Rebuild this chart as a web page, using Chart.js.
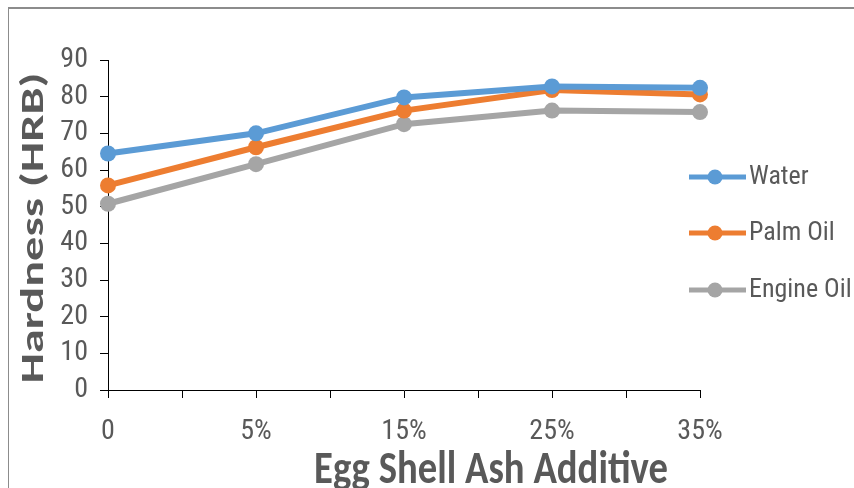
<!DOCTYPE html>
<html>
<head>
<meta charset="utf-8">
<script src="https://cdn.jsdelivr.net/npm/chart.js@4"></script>
<style>
  html, body { margin: 0; padding: 0; background: #fff; }
  #wrap { position: relative; width: 854px; height: 488px; }
  #wrap::before { content: ''; position: absolute; left: 8px; top: 7px; right: 0; bottom: 0;
    border-left: 1px solid #8c8c8c; border-top: 2px solid #8c8c8c; }
</style>
</head>
<body>
<div id="wrap"><canvas id="chart" width="854" height="488"></canvas></div>
<script>
const categories = ['0', '5%', '15%', '25%', '35%'];
const water = [64.5, 70, 79.8, 82.8, 82.4];
const palmOil = [55.8, 66.2, 76.2, 81.8, 80.6];
const engineOil = [50.8, 61.6, 72.5, 76.2, 75.8];
const yTicks = [0, 10, 20, 30, 40, 50, 60, 70, 80, 90];

const grey = '#595959';
const narrow = '"Roboto Condensed", Carlito, sans-serif';

function pts(arr) { return arr.map((v, i) => ({ x: i, y: v })); }

function series(label, arr, color) {
    return {
        label, data: pts(arr), borderColor: color, backgroundColor: color, clip: false,
        borderWidth: 6, pointRadius: 8, pointHoverRadius: 8, pointBorderWidth: 0, tension: 0
    };
}

// text squeezed/stretched into a box, the picture was resized unevenly
function boxText(ctx, text, font, x, y, len, sy, rot) {
    ctx.save();
    ctx.font = font;
    const w = ctx.measureText(text).width;
    ctx.translate(x, y);
    ctx.rotate(rot);
    ctx.scale(len / w, sy);
    ctx.fillText(text, 0, 0);
    ctx.restore();
}

// titles + legend drawn by hand, the excel layout doesn't fit chart.js's boxes
const extras = {
    id: 'extras',
    afterDraw(c) {
        const ctx = c.ctx;
        ctx.save();
        ctx.fillStyle = grey;
        ctx.textAlign = 'center';
        ctx.textBaseline = 'middle';
        boxText(ctx, 'Hardness (HRB)', 'bold 33px Carlito, sans-serif', 35, 228, 311, 1, -Math.PI / 2);
        ctx.textBaseline = 'alphabetic';
        boxText(ctx, 'Egg Shell Ash Additive', 'bold 35px Carlito, sans-serif', 491, 483, 354, 1.3, 0);
        ctx.restore();

        const rows = [177, 233, 290];
        c.data.datasets.forEach((ds, i) => {
            const y = rows[i];
            ctx.save();
            ctx.strokeStyle = ds.borderColor;
            ctx.lineWidth = 5;
            ctx.beginPath();
            ctx.moveTo(689, y); ctx.lineTo(746, y);
            ctx.stroke();
            ctx.fillStyle = ds.borderColor;
            ctx.beginPath();
            ctx.arc(715, y, 7.5, 0, Math.PI * 2);
            ctx.fill();
            ctx.fillStyle = grey;
            ctx.font = '26px ' + narrow;
            ctx.textBaseline = 'middle';
            ctx.fillText(ds.label, 749, y);
            ctx.restore();
        });
    }
};

chart = new Chart(document.getElementById('chart'), {
    type: 'line',
    data: {
        datasets: [
            series('Water', water, '#5B9BD5'),
            series('Palm Oil', palmOil, '#ED7D31'),
            series('Engine Oil', engineOil, '#A5A5A5')
        ]
    },
    options: {
        responsive: false, animation: false,
        layout: { padding: { left: 0, top: 60, right: 154, bottom: 0 } },
        plugins: { legend: { display: false }, tooltip: { enabled: false } },
        scales: {
            x: {
                type: 'linear', min: 0, max: categories.length - 1,
                afterFit: s => { s.height = 98; },
                border: { color: '#000', width: 1 },
                grid: { drawOnChartArea: false, color: '#000', tickLength: 8 },
                ticks: {
                    stepSize: 0.5, padding: 17, color: grey, font: { family: narrow, size: 28 },
                    maxRotation: 0, autoSkip: false,
                    callback: v => Number.isInteger(v) ? categories[v] : ''
                }
            },
            y: {
                min: yTicks[0], max: yTicks[yTicks.length - 1],
                afterFit: s => { s.width = 108; },
                afterBuildTicks: s => { s.ticks = yTicks.map(v => ({ value: v })); },
                border: { color: '#000', width: 1 },
                grid: { drawOnChartArea: false, color: '#000', tickLength: 8 },
                ticks: { padding: 12, color: grey, font: { family: narrow, size: 28 } }
            }
        }
    },
    plugins: [extras]
});
</script>
</body>
</html>
